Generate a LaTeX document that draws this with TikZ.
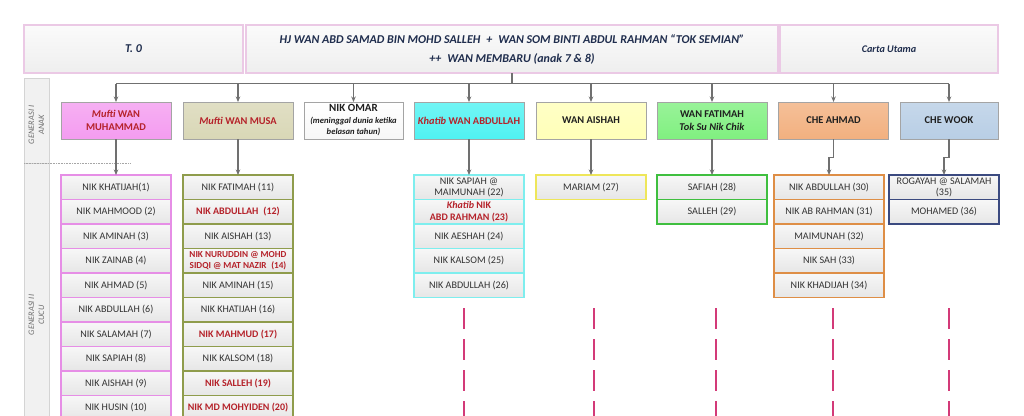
\documentclass[tikz,border=0pt]{standalone}
\usepackage{fontspec}
\setmainfont{Carlito}
\usetikzlibrary{arrows.meta,positioning}
\definecolor{hdrpink}{HTML}{EBC9E5}
\definecolor{hdrtop}{HTML}{FBFBFB}
\definecolor{hdrbot}{HTML}{EEEEEE}
\definecolor{navytxt}{HTML}{1F2D4D}
\definecolor{sidefill}{HTML}{F1F1F1}
\definecolor{sideborder}{HTML}{D4D4D4}
\definecolor{sidetxt}{HTML}{6E6E6E}
\definecolor{gborder}{HTML}{A4A4A4}
\definecolor{conngray}{HTML}{707070}
\definecolor{redtxt}{HTML}{B5222A}
\definecolor{rowtxt}{HTML}{333333}
\definecolor{rowtop}{HTML}{F7F7F7}
\definecolor{rowbot}{HTML}{E6E6E6}
\definecolor{dashred}{HTML}{D33A78}
% gen I fills
\definecolor{fMuh}{HTML}{F49CF0}
\definecolor{fMusa}{HTML}{D9D7B6}
\definecolor{fOmar}{HTML}{F7F7F7}
\definecolor{fAbd}{HTML}{4FF2F2}
\definecolor{fAis}{HTML}{FFFFB8}
\definecolor{fFat}{HTML}{80F080}
\definecolor{fChe}{HTML}{F2B07F}
\definecolor{fWook}{HTML}{B8CEE5}
% gen II borders
\definecolor{bMuh}{HTML}{E68EE6}
\definecolor{bMusa}{HTML}{8F9C4C}
\definecolor{bAbd}{HTML}{7EEEEE}
\definecolor{bAis}{HTML}{EEE65A}
\definecolor{bFat}{HTML}{3FBF3F}
\definecolor{bChe}{HTML}{DE8E46}
\definecolor{bWook}{HTML}{3B4A80}
\begin{document}
\begin{tikzpicture}[x=1pt,y=-1pt,
  hdr/.style={draw=hdrpink, line width=1.6pt, top color=hdrtop, bottom color=hdrbot,
    minimum height=48, inner sep=0pt, outer sep=0pt, anchor=north west, align=center,
    text=navytxt},
  side/.style={draw=sideborder, line width=0.8pt, fill=sidefill, minimum width=25,
    inner sep=0pt, outer sep=0pt, anchor=north west},
  sidelbl/.style={rotate=90, align=center, text=sidetxt,
    font=\itshape\fontsize{8.4}{10}\selectfont, inner sep=0pt},
  gbox/.style={draw=gborder, line width=0.9pt, top color=#1!80!white, bottom color=#1,
    minimum width=110, minimum height=37, inner sep=1pt, outer sep=0pt, align=center,
    font=\bfseries\fontsize{10.4}{13.5}\selectfont, text=black!88},
  rw/.style={draw=#1, line width=1.3pt, top color=rowtop, bottom color=rowbot,
    minimum width=110, minimum height=24.5, inner sep=0pt, outer sep=0pt, align=center,
    font=\fontsize{10.1}{11.6}\selectfont, text=rowtxt},
  rred/.style={text=redtxt, font=\bfseries\fontsize{10}{11.6}\selectfont},
  ln/.style={draw=conngray, line width=1.1pt},
  arr/.style={ln, -{Stealth[length=5.5pt,width=4.5pt]}},
  dsh/.style={draw=dashred, line width=1.4pt, dash pattern=on 21pt off 10pt},
  sepl/.style={draw=black!35, line width=0.6pt, densely dotted}
]
\useasboundingbox (0,0) rectangle (1024,415);
\clip (0,0) rectangle (1024,415);
\fill[white] (0,0) rectangle (1024,415);

% header
\node[hdr, minimum width=219, font=\bfseries\itshape\fontsize{12}{14}\selectfont] (t0) at (24,25) {T. 0};
\node[hdr, minimum width=532, font=\bfseries\itshape\fontsize{12}{19}\selectfont] (main) at (246,25)
  {HJ WAN ABD SAMAD BIN MOHD SALLEH\enspace+\enspace WAN SOM BINTI ABDUL RAHMAN “TOK SEMIAN”\\
   ++\enspace WAN MEMBARU (anak 7 \& 8)};
\node[hdr, minimum width=218, font=\bfseries\itshape\fontsize{10.2}{12}\selectfont] (carta) at (780,25) {Carta Utama};

% sidebar
\node[side, minimum height=85] (s1) at (24,78) {};
\node[side, minimum height=262] (s2) at (24,163) {};
\node[sidelbl] (l1) at (36.5,125) {GENERASI I\\ANAK};
\node[sidelbl] (l2) at (36.5,315) {GENERASI II\\CUCU};
\coordinate (sepend) at (131,163);
\draw[sepl] (s1.south west) -- (sepend);

% generation I
\node[gbox=fMuh] (g1) at (116,120.5) {\textcolor{redtxt}{\textit{Mufti} WAN}\\\textcolor{redtxt}{MUHAMMAD}};
\node[gbox=fMusa] (g2) at (238,120.5) {\textcolor{redtxt}{\textit{Mufti} WAN MUSA}};
\node[gbox=fOmar, minimum width=99, top color=white, bottom color=fOmar,
      font=\bfseries\fontsize{11}{11.5}\selectfont] (g3) at (353.5,120.5)
  {NIK OMAR\\\textit{\fontsize{8.6}{11.5}\selectfont (meninggal dunia ketika}\\\textit{\fontsize{8.6}{11.5}\selectfont belasan tahun)}};
\node[gbox=fAbd] (g4) at (469,120.5) {\textcolor{redtxt}{\textit{Khatib} WAN ABDULLAH}};
\node[gbox=fAis] (g5) at (591,120.5) {WAN AISHAH};
\node[gbox=fFat, font=\bfseries\fontsize{10.4}{12.5}\selectfont] (g6) at (712,120.5) {WAN FATIMAH\\\textit{Tok Su Nik Chik}};
\node[gbox=fChe] (g7) at (833.5,120.5) {CHE AHMAD};
\node[gbox=fWook, minimum width=98] (g8) at (949,120.5) {CHE WOOK};

% connectors header -> gen I
\coordinate (bus) at (512,83.5);
\draw[ln] (main.south) -- (main.south |- bus);
\draw[ln] (g1.north |- bus) -- (g8.north |- bus);
\foreach \n in {g1,g2,g3,g4,g5,g6,g7,g8}
  \draw[arr] (\n.north |- bus) -- (\n.north);

% column 1
\node[rw=bMuh, anchor=north] (c1r1) at (116,175) {NIK KHATIJAH(1)};
\node[rw=bMuh, below=0pt of c1r1] (c1r2) {NIK MAHMOOD (2)};
\node[rw=bMuh, below=0pt of c1r2] (c1r3) {NIK AMINAH (3)};
\node[rw=bMuh, below=0pt of c1r3] (c1r4) {NIK ZAINAB (4)};
\node[rw=bMuh, below=0pt of c1r4] (c1r5) {NIK AHMAD (5)};
\node[rw=bMuh, below=0pt of c1r5] (c1r6) {NIK ABDULLAH (6)};
\node[rw=bMuh, below=0pt of c1r6] (c1r7) {NIK SALAMAH (7)};
\node[rw=bMuh, below=0pt of c1r7] (c1r8) {NIK SAPIAH (8)};
\node[rw=bMuh, below=0pt of c1r8] (c1r9) {NIK AISHAH (9)};
\node[rw=bMuh, below=0pt of c1r9] (c1r10) {NIK HUSIN (10)};

% column 2
\node[rw=bMusa, anchor=north] (c2r1) at (238,175) {NIK FATIMAH (11)};
\node[rw=bMusa, rred, below=0pt of c2r1] (c2r2) {NIK ABDULLAH\enspace(12)};
\node[rw=bMusa, below=0pt of c2r2] (c2r3) {NIK AISHAH (13)};
\node[rw=bMusa, rred, font=\bfseries\fontsize{9.2}{11}\selectfont, below=0pt of c2r3] (c2r4) {NIK NURUDDIN @ MOHD\\SIDQI @ MAT NAZIR\enspace(14)};
\node[rw=bMusa, below=0pt of c2r4] (c2r5) {NIK AMINAH (15)};
\node[rw=bMusa, below=0pt of c2r5] (c2r6) {NIK KHATIJAH (16)};
\node[rw=bMusa, rred, below=0pt of c2r6] (c2r7) {NIK MAHMUD (17)};
\node[rw=bMusa, below=0pt of c2r7] (c2r8) {NIK KALSOM (18)};
\node[rw=bMusa, rred, below=0pt of c2r8] (c2r9) {NIK SALLEH (19)};
\node[rw=bMusa, rred, below=0pt of c2r9] (c2r10) {NIK MD MOHYIDEN (20)};

% column 4
\node[rw=bAbd, anchor=north] (c4r1) at (469,175) {NIK SAPIAH @\\MAIMUNAH (22)};
\node[rw=bAbd, rred, below=0pt of c4r1] (c4r2) {\textit{Khatib} NIK\\ABD RAHMAN (23)};
\node[rw=bAbd, below=0pt of c4r2] (c4r3) {NIK AESHAH (24)};
\node[rw=bAbd, below=0pt of c4r3] (c4r4) {NIK KALSOM (25)};
\node[rw=bAbd, below=0pt of c4r4] (c4r5) {NIK ABDULLAH (26)};

% column 5
\node[rw=bAis, anchor=north] (c5r1) at (591,175) {MARIAM (27)};

% column 6
\node[rw=bFat, anchor=north] (c6r1) at (712,175) {SAFIAH (28)};
\node[rw=bFat, below=0pt of c6r1] (c6r2) {SALLEH (29)};

% column 7
\node[rw=bChe, anchor=north] (c7r1) at (829,175) {NIK ABDULLAH (30)};
\node[rw=bChe, below=0pt of c7r1] (c7r2) {NIK AB RAHMAN (31)};
\node[rw=bChe, below=0pt of c7r2] (c7r3) {MAIMUNAH (32)};
\node[rw=bChe, below=0pt of c7r3] (c7r4) {NIK SAH (33)};
\node[rw=bChe, below=0pt of c7r4] (c7r5) {NIK KHADIJAH (34)};

% column 8
\node[rw=bWook, anchor=north] (c8r1) at (944,175) {ROGAYAH @ SALAMAH\\(35)};
\node[rw=bWook, below=0pt of c8r1] (c8r2) {MOHAMED (36)};

% connectors gen I -> gen II
\draw[arr] (g1.south) -- (c1r1.north);
\draw[arr] (g2.south) -- (c2r1.north);
\draw[arr] (g4.south) -- (c4r1.north);
\draw[arr] (g5.south) -- (c5r1.north);
\draw[arr] (g6.south) -- (c6r1.north);
\draw[arr] (g7.south) -- ++(0,18.5) -| (c7r1.north);
\draw[arr] (g8.south) -- ++(0,18.5) -| (c8r1.north);

% dashed continuation lines
\coordinate (d4) at (464,308);
\coordinate (d5) at (594,308);
\coordinate (d6) at (716,308);
\coordinate (d7) at (833,308);
\coordinate (d8) at (949,308);
\foreach \d in {d4,d5,d6,d7,d8}
  \draw[dsh] (\d) -- ++(0,130);
\end{tikzpicture}
\end{document}
